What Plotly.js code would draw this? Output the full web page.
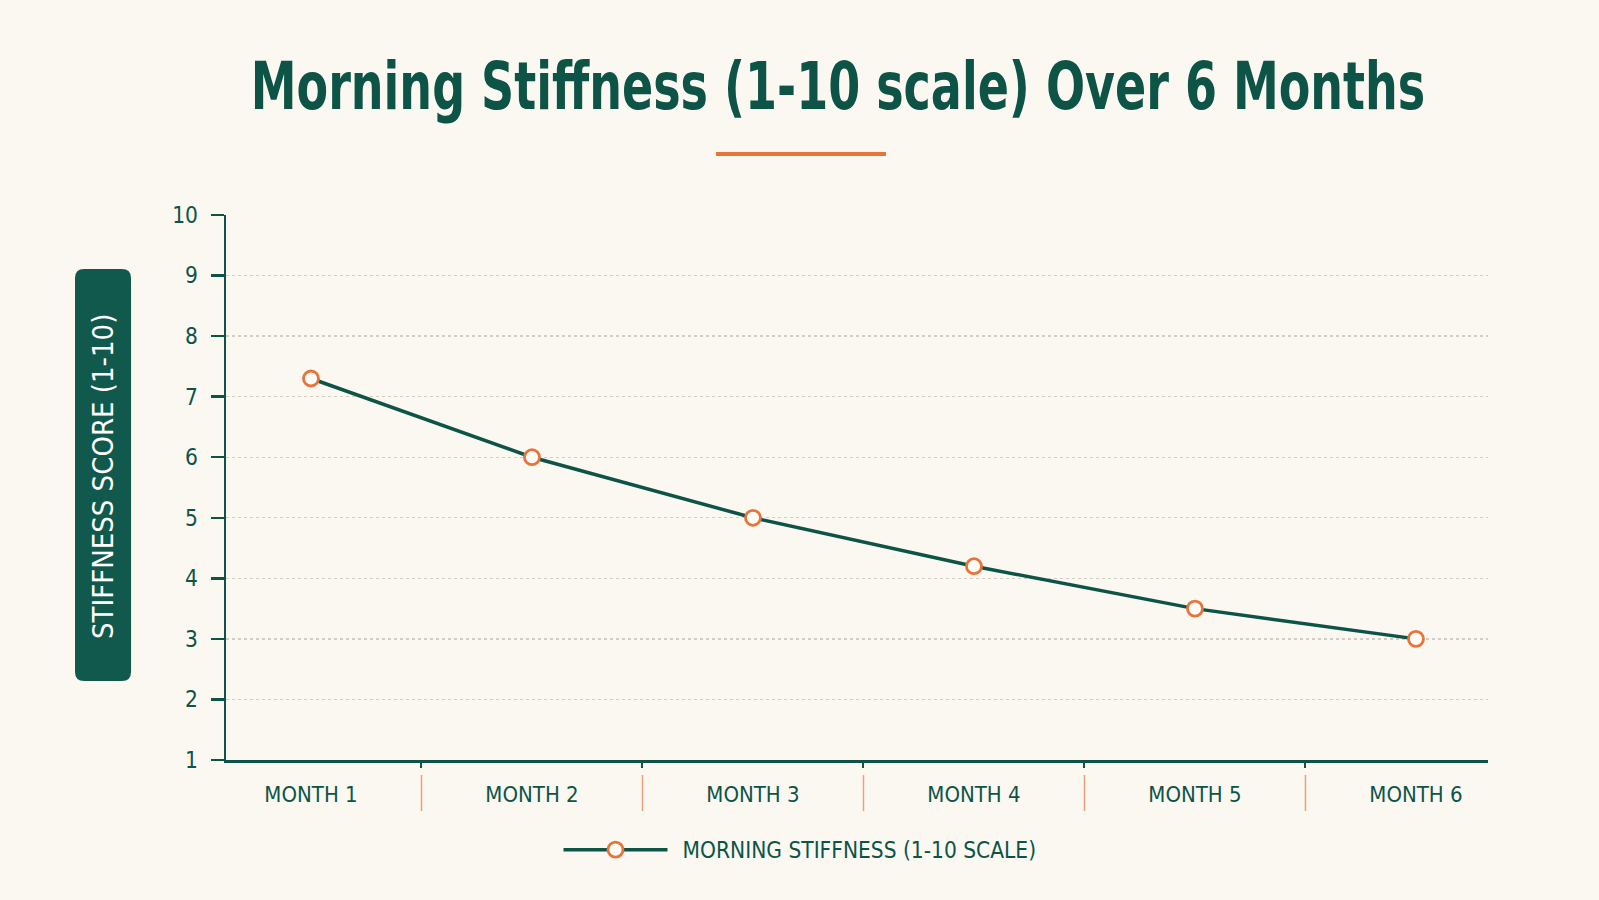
<!DOCTYPE html>
<html>
<head>
<meta charset="utf-8">
<script src="https://cdn.plot.ly/plotly-3.0.1.min.js"></script>
<style>
  html, body { margin: 0; padding: 0; background: #fbf8f2; }
  #chart { width: 1599px; height: 900px; }
  /* narrow the bold title like the condensed face of the reference */
  #chart .gtitle { transform-box: fill-box; transform-origin: center; transform: scaleX(0.775); }
</style>
</head>
<body>
<div id="chart"></div>
<script>
// ---- data ----
const months = ["MONTH 1", "MONTH 2", "MONTH 3", "MONTH 4", "MONTH 5", "MONTH 6"];
const stiffness = [7.3, 6.0, 5.0, 4.2, 3.5, 3.0];
const yTicks = [1, 2, 3, 4, 5, 6, 7, 8, 9, 10];
const chartTitle = "Morning Stiffness (1-10 scale) Over 6 Months";
const seriesName = "MORNING STIFFNESS (1-10 SCALE)";
const yLabel = "STIFFNESS SCORE (1-10)";

// ---- style ----
const W = 1599, H = 900;
const M = { l: 226, r: 111, t: 215, b: 140 };
const PW = W - M.l - M.r, PH = H - M.t - M.b;
const FONT = "'DejaVu Sans Condensed', 'DejaVu Sans', sans-serif";
const TEAL = "#0d5447";
const BOX = "#10594c";
const ORANGE = "#e8743b";
const BG = "#fbf8f2";

const px2x = p => (p - M.l) / PW;
const py2y = p => (H - M.b - p) / PH;

function roundedRect(x0p, x1p, y0p, y1p, r) {
  const x0 = px2x(x0p), x1 = px2x(x1p);
  const yb = py2y(y1p), yt = py2y(y0p);
  const rx = r / PW, ry = r / PH;
  return `M ${x0 + rx},${yt} L ${x1 - rx},${yt} Q ${x1},${yt} ${x1},${yt - ry} ` +
         `L ${x1},${yb + ry} Q ${x1},${yb} ${x1 - rx},${yb} L ${x0 + rx},${yb} ` +
         `Q ${x0},${yb} ${x0},${yb + ry} L ${x0},${yt - ry} Q ${x0},${yt} ${x0 + rx},${yt} Z`;
}

const shapes = [
  // y-axis label box
  { type: "path", xref: "paper", yref: "paper", path: roundedRect(75, 131, 269, 681, 9),
    fillcolor: BOX, line: { width: 0 }, layer: "below" },
  // title underline
  { type: "line", xref: "paper", yref: "paper", x0: px2x(716), x1: px2x(886), y0: py2y(154), y1: py2y(154),
    line: { color: ORANGE, width: 4 } }
];
// orange separators between month labels
for (let i = 0; i < months.length - 1; i++) {
  shapes.push({ type: "line", xref: "x", yref: "paper", x0: i + 0.5, x1: i + 0.5,
    y0: py2y(775), y1: py2y(811), line: { color: "#eba27c", width: 1.5 } });
}

const trace = {
  type: "scatter",
  mode: "lines+markers",
  name: "\u2002" + seriesName,
  x: months,
  y: stiffness,
  line: { color: TEAL, width: 3.5 },
  marker: { size: 15, color: "#fffdf8", line: { color: ORANGE, width: 2.8 } }
};

const layout = {
  width: W, height: H,
  margin: M,
  paper_bgcolor: BG, plot_bgcolor: BG,
  font: { family: FONT, color: TEAL },
  title: {
    text: chartTitle,
    x: 838 / W, xref: "container", xanchor: "center",
    y: 1 - 86 / H, yref: "container", yanchor: "middle",
    font: { family: FONT, size: 66, weight: 700, color: TEAL }
  },
  xaxis: {
    type: "category",
    range: [-0.3846, 5.326],
    tickson: "boundaries",
    ticks: "outside", ticklen: 5, tickwidth: 2, tickcolor: TEAL,
    showline: true, linecolor: TEAL, linewidth: 2.5,
    showgrid: false, zeroline: false,
    tickfont: { family: FONT, size: 22, color: TEAL },
    ticklabelstandoff: 13
  },
  yaxis: {
    range: [1, 10],
    tickmode: "array", tickvals: yTicks, ticktext: yTicks.map(String),
    ticks: "outside", ticklen: 13, tickwidth: 2.5, tickcolor: TEAL,
    showline: true, linecolor: TEAL, linewidth: 2.5,
    showgrid: true, gridcolor: "#d2cdc4", griddash: "dot", gridwidth: 1.3,
    zeroline: false,
    tickfont: { family: FONT, size: 22.5, color: TEAL },
    ticklabelstandoff: 8
  },
  showlegend: true,
  legend: {
    orientation: "h",
    x: 800 / W, xref: "container", xanchor: "center",
    y: 1 - 850 / H, yref: "container", yanchor: "middle",
    itemwidth: 104,
    bgcolor: "rgba(0,0,0,0)",
    font: { family: FONT, size: 22.5, color: TEAL }
  },
  shapes: shapes,
  annotations: [
    { text: yLabel, xref: "paper", yref: "paper", x: px2x(103), y: py2y(477),
      xanchor: "center", yanchor: "middle", textangle: -90, showarrow: false,
      font: { family: FONT, size: 29, color: "#ffffff" } }
  ]
};

Plotly.newPlot("chart", [trace], layout, { displayModeBar: false, staticPlot: true });
</script>
</body>
</html>
